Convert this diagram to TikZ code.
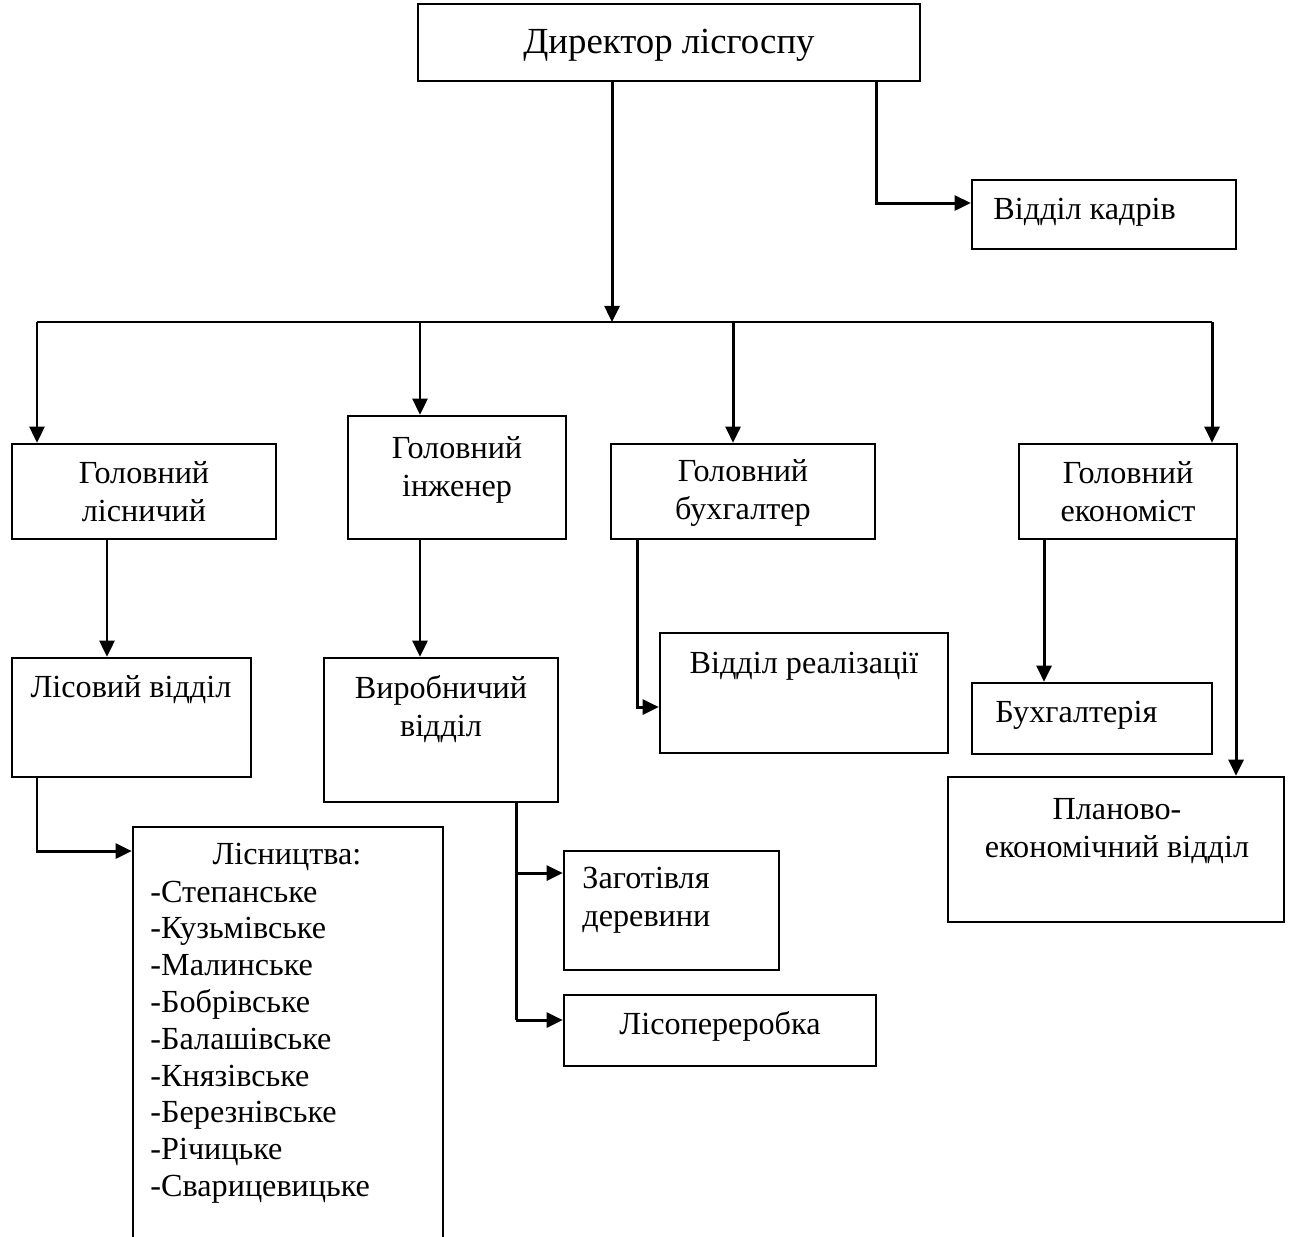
\documentclass[tikz,border=0pt]{standalone}
\usepackage{fontspec}
\setmainfont{Liberation Serif}
\usetikzlibrary{arrows.meta,fit}
\tikzstyle{box}=[draw=black, line width=1.1pt, inner sep=0pt]
\tikzstyle{edge}=[draw=black, line width=1.3pt]
\tikzstyle{arr}=[edge, -{Triangle[length=7pt,width=6.5pt]}]
\tikzstyle{txt}=[inner sep=0pt, font=\fontsize{14pt}{16.5pt}\selectfont, align=center]
\tikzstyle{ltxt}=[txt, align=left]

\begin{document}
\begin{tikzpicture}[x=0.435pt,y=-0.435pt]
\useasboundingbox (0,0) rectangle (1290,1236);
% boxes
\node[box, fit={(418,4) (920,81)}] (dir) {};
\node[box, fit={(972,180) (1236,249)}] (kadr) {};
\node[box, fit={(12,444) (276,539)}] (glis) {};
\node[box, fit={(348,416) (566,539)}] (gin) {};
\node[box, fit={(611,444) (875,539)}] (gbuh) {};
\node[box, fit={(1019,444) (1237,539)}] (gek) {};
\node[box, fit={(12,658) (251,777)}] (lisv) {};
\node[box, fit={(324,658) (558,802)}] (virv) {};
\node[box, fit={(660,633) (948,753)}] (real) {};
\node[box, fit={(972,683) (1212,754)}] (buh) {};
\node[box, fit={(948,777) (1284,922)}] (plan) {};
\node[box, fit={(133,827) (443,1290)}] (lisn) {};
\node[box, fit={(564,851) (779,970)}] (zag) {};
\node[box, fit={(564,995) (876,1066)}] (pererob) {};
% texts
\node[txt, font=\fontsize{16pt}{18pt}\selectfont] (dirT) at (669,45) {Директор лісгоспу};
\node[ltxt, anchor=west] (kadrT) at (993,212) {Відділ кадрів};
\node[txt] (glisT) at (144,492) {Головний\\лісничий};
\node[txt] (ginT) at (457,470) {Головний\\інженер};
\node[txt] (gbuhT) at (743,493) {Головний\\бухгалтер};
\node[txt] (gekT) at (1128,492) {Головний\\економіст};
\node[txt] (lisvT) at (131,690) {Лісовий відділ};
\node[txt] (virvT) at (441,709) {Виробничий\\відділ};
\node[txt] (realT) at (804,666) {Відділ реалізації};
\node[ltxt, anchor=west] (buhT) at (995,715) {Бухгалтерія};
\node[txt] (planT) at (1117,831) {Планово-\\економічний відділ};
\node[ltxt, anchor=west] (zagT) at (582,900) {Заготівля\\деревини};
\node[txt] (pererobT) at (720,1026) {Лісопереробка};
\node[txt] (lisnH) at (287,857) {Лісництва:};
\node[ltxt, anchor=west, font=\fontsize{14pt}{16pt}\selectfont] (lisnT) at (150,1042) {-Степанське\\-Кузьмівське\\-Малинське\\-Бобрівське\\-Балашівське\\-Князівське\\-Березнівське\\-Річицьке\\-Сварицевицьке};
% connectors
\coordinate (busL) at (37,322);
\coordinate (busI) at (420,322);
\coordinate (busC) at (612,322);
\coordinate (busB) at (733,322);
\coordinate (busR) at (1212,322);
\coordinate (kd) at (876,203);
\draw[arr] (dir.south -| busC) -- (busC);
\draw[arr] (dir.south -| kd) -- (kd) -- (kd -| kadr.west);
\draw[edge, line width=1pt] (busL) -- (busR);
\draw[arr] (busL) -- (busL |- glis.north);
\draw[arr] (busI) -- (busI |- gin.north);
\draw[arr] (busB) -- (busB |- gbuh.north);
\draw[arr] (busR) -- (busR |- gek.north);
\coordinate (xa) at (107,0);
\coordinate (xi) at (420,0);
\draw[arr] (glis.south -| xa) -- (lisv.north -| xa);
\draw[arr] (gin.south -| xi) -- (virv.north -| xi);
\coordinate (xb) at (37,851);
\draw[arr] (lisv.south -| xb) -- (xb) -- (xb -| lisn.west);
\coordinate (xc) at (516,873);
\coordinate (xd) at (516,1020);
\draw[edge] (virv.south -| xc) -- (xd);
\draw[arr] (xc) -- (xc -| zag.west);
\draw[arr] (xd) -- (xd -| pererob.west);
\coordinate (xe) at (637,707);
\draw[arr] (gbuh.south -| xe) -- (xe) -- (xe -| real.west);
\coordinate (xf) at (1044,0);
\coordinate (xg) at (1236,0);
\draw[arr] (gek.south -| xf) -- (buh.north -| xf);
\draw[arr] (gek.south -| xg) -- (plan.north -| xg);
\end{tikzpicture}
\end{document}
